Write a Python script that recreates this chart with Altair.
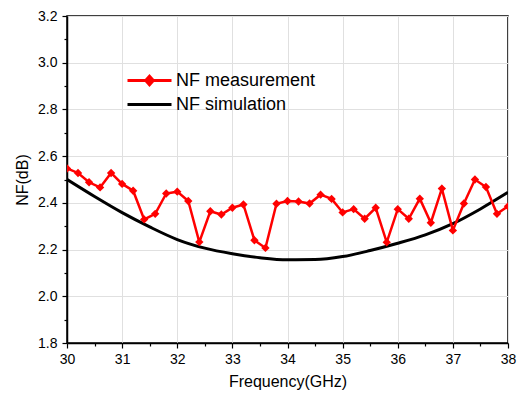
import altair as alt
import pandas as pd

# ---- data ----
freq_meas = [30.0, 30.2, 30.4, 30.6, 30.8, 31.0, 31.2, 31.4, 31.6, 31.8,
             32.0, 32.2, 32.4, 32.6, 32.8, 33.0, 33.2, 33.4, 33.6, 33.8,
             34.0, 34.2, 34.4, 34.6, 34.8, 35.0, 35.2, 35.4, 35.6, 35.8,
             36.0, 36.2, 36.4, 36.6, 36.8, 37.0, 37.2, 37.4, 37.6, 37.8, 38.0]
nf_meas = [2.547, 2.528, 2.488, 2.466, 2.528, 2.481, 2.452, 2.329, 2.353, 2.440,
           2.448, 2.408, 2.232, 2.364, 2.350, 2.379, 2.393, 2.240, 2.207, 2.396,
           2.408, 2.406, 2.397, 2.435, 2.417, 2.359, 2.373, 2.332, 2.379, 2.231,
           2.373, 2.332, 2.418, 2.315, 2.461, 2.282, 2.397, 2.500, 2.468, 2.353, 2.385]

freq_sim = [30.0, 30.5, 31.0, 31.5, 32.0, 32.5, 33.0, 33.5, 34.0,
            34.5, 35.0, 35.5, 36.0, 36.5, 37.0, 37.5, 38.0]
nf_sim = [2.500, 2.427, 2.358, 2.297, 2.243, 2.206, 2.182, 2.165, 2.156,
          2.157, 2.170, 2.196, 2.227, 2.263, 2.311, 2.374, 2.445]

series_names = ["NF measurement", "NF simulation"]
series_colors = ["#ff0000", "#000000"]
legend_shapes = ["M-2.2,0L2.2,0M0,-0.42L0.38,0L0,0.42L-0.38,0Z", "M-2.2,0L2.2,0"]

x_ticks = [30, 30.5, 31, 31.5, 32, 32.5, 33, 33.5, 34, 34.5, 35, 35.5, 36, 36.5, 37, 37.5, 38]
y_ticks = [1.8, 1.9, 2.0, 2.1, 2.2, 2.3, 2.4, 2.5, 2.6, 2.7, 2.8, 2.9, 3.0, 3.1, 3.2]

df_meas = pd.DataFrame({"f": freq_meas, "nf": nf_meas})
df_sim = pd.DataFrame({"f": freq_sim, "nf": nf_sim})
df_leg = pd.DataFrame({"series": series_names, "f": [30, 30], "nf": [2.0, 2.0]})

x_major = "datum.value % 1 == 0"
y_major = "abs(datum.value*5 - round(datum.value*5)) < 0.01"

x_axis = alt.Axis(
    values=x_ticks, title="Frequency(GHz)",
    labelExpr=f"({x_major}) ? format(datum.value, 'd') : ''",
    tickSize={"condition": {"test": x_major, "value": 5}, "value": 3},
    gridOpacity={"condition": {"test": x_major, "value": 1}, "value": 0},
    labelPadding=4, titlePadding=7, labelOverlap=False, labelFlush=False,
)
y_axis = alt.Axis(
    values=y_ticks, title="NF(dB)",
    labelExpr=f"({y_major}) ? format(datum.value, '.1f') : ''",
    tickSize={"condition": {"test": y_major, "value": 5}, "value": 3},
    gridOpacity={"condition": {"test": y_major, "value": 1}, "value": 0},
    labelPadding=5, titlePadding=7, labelOverlap=False, labelFlush=False,
)

xs = alt.Scale(domain=[30, 38], nice=False, zero=False)
ys = alt.Scale(domain=[1.8, 3.2], nice=False, zero=False)

X = alt.X("f:Q", scale=xs, axis=x_axis)
Y = alt.Y("nf:Q", scale=ys, axis=y_axis)

sim = alt.Chart(df_sim).mark_line(
    color="#000000", strokeWidth=3, interpolate="monotone", clip=True
).encode(x=X, y=Y)

meas_line = alt.Chart(df_meas).mark_line(
    color="#ff0000", strokeWidth=2.5, clip=True
).encode(x=X, y=Y)

meas_pts = alt.Chart(df_meas).mark_point(
    shape="diamond", filled=True, size=70, color="#ff0000", opacity=1, clip=True
).encode(x=X, y=Y)

leg = alt.Legend(
    title=None, orient="none", legendX=71, legendY=53, padding=0,
    symbolSize=400, symbolStrokeWidth=3, labelFontSize=18,
    labelFont="Liberation Sans", labelColor="black", labelOffset=15,
    rowPadding=2,
)
legend_layer = alt.Chart(df_leg).transform_filter("false").mark_point(
    filled=True, opacity=1, strokeWidth=3
).encode(
    x=X, y=Y,
    fill=alt.Fill("series:N", scale=alt.Scale(domain=series_names, range=series_colors), legend=leg),
    stroke=alt.Stroke("series:N", scale=alt.Scale(domain=series_names, range=series_colors), legend=leg),
    shape=alt.Shape("series:N", scale=alt.Scale(domain=series_names, range=legend_shapes), legend=leg),
)

chart = alt.layer(sim, meas_line, meas_pts, legend_layer).properties(
    width=441, height=327,
    autosize=alt.AutoSizeParams(type="none"),
    padding={"left": 59, "top": 8, "right": 9, "bottom": 48},
    background="white",
).configure_axis(
    labelFont="Liberation Sans", labelFontSize=14, labelColor="black",
    titleFont="Liberation Sans", titleFontSize=16, titleFontWeight="normal", titleColor="black",
    domainColor="black", domainWidth=1.5, tickColor="black", tickWidth=1.2,
    gridColor="#e0e0e0", gridWidth=1,
).configure_view(stroke="black", strokeWidth=1.5)

chart.save("out.html", embed_options={"renderer": "svg", "actions": False})
